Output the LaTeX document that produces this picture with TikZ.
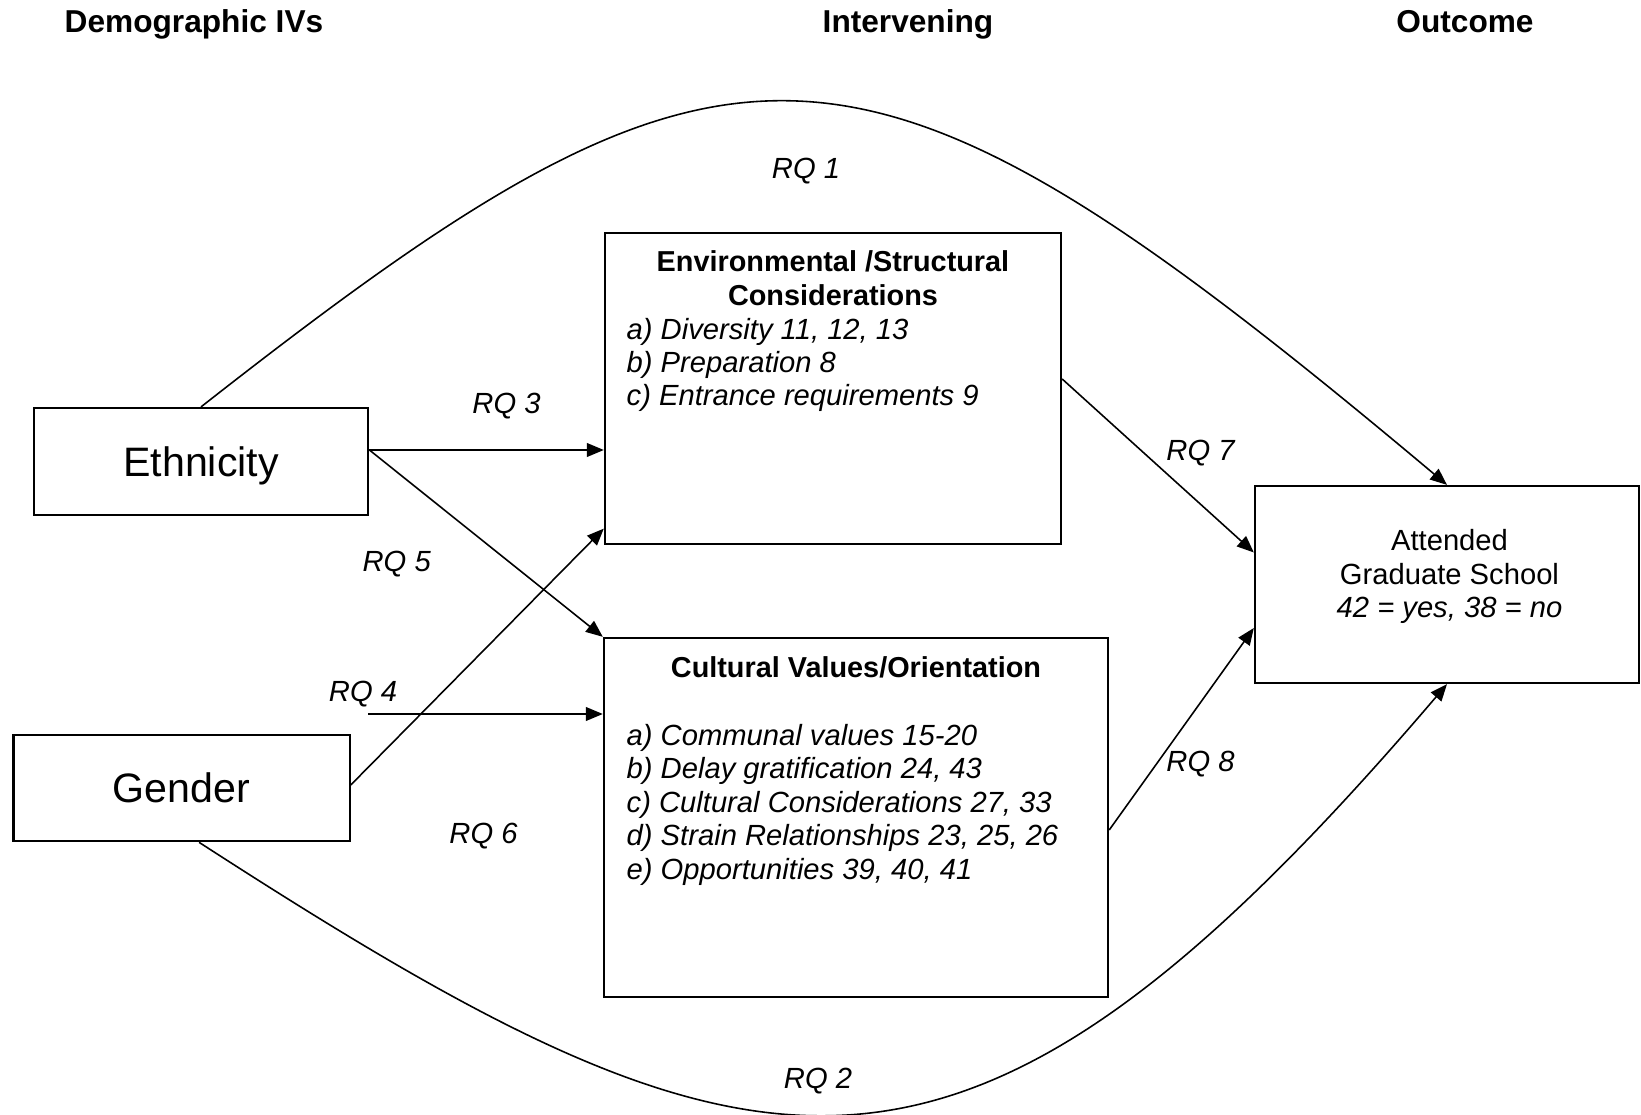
\documentclass[tikz,border=0pt]{standalone}
\usepackage{fontspec}
\setmainfont{Liberation Sans}
\usetikzlibrary{arrows.meta}
\begin{document}
\begin{tikzpicture}[x=0.01cm,y=-0.01cm,
	box/.style={draw,line width=0.6pt,inner sep=0pt},
	arr/.style={-{Triangle[length=4.8pt,width=3.9pt]},line width=0.45pt},
	head/.style={anchor=base,font=\fontsize{9}{11}\selectfont\bfseries},
	big/.style={text depth=0pt,font=\fontsize{11.7}{14}\selectfont},
	ttl/.style={inner sep=0pt,align=center,font=\fontsize{8.2}{9.5}\selectfont\bfseries},
	lst/.style={inner sep=0pt,align=left,anchor=west,font=\fontsize{8.3}{9.5}\selectfont\itshape},
	rq/.style={inner sep=0pt,font=\fontsize{8.3}{9.5}\selectfont\itshape}]
		\useasboundingbox (0,0) rectangle (1641,1115);
		\def\lx{626}%left edge of the lists
		\def\hy{32}%baseline of the column heads
		% column heads
		\node[head] (hdem) at (194,\hy) {Demographic IVs};
		\node[head] (hint) at (908,\hy) {Intervening};
		\node[head] (hout) at (1465,\hy) {Outcome};
		% boxes
		\node[box,big,minimum width=3.345cm,minimum height=1.07cm] (eth) at (201,461.5) {Ethnicity};
		\node[box,big,minimum width=3.36cm,minimum height=1.065cm] (gen) at (181.6,788) {Gender};
		\node[box,minimum width=4.56cm,minimum height=3.11cm] (env) at (833,388.5) {};
		\node[box,minimum width=5.04cm,minimum height=3.59cm] (cul) at (856,817.5) {};
		\node[box,minimum width=3.84cm,minimum height=1.97cm] (att) at (1447,584.5) {};
		\node[ttl] (envt) at (833,278) {Environmental /Structural\\Considerations};
		\node[lst] (envl) at (\lx,365) {a) Diversity 11, 12, 13\\b) Preparation 8\\c) Entrance requirements 9};
		\node[ttl] (cult) at (856,667) {Cultural Values/Orientation};
		\node[lst] (cull) at (\lx,804.7) {a) Communal values 15-20\\b) Delay gratification 24, 43\\c) Cultural Considerations 27, 33\\d) Strain Relationships 23, 25, 26\\e) Opportunities 39, 40, 41};
		\node[inner sep=0pt,align=center,font=\fontsize{8.3}{9.5}\selectfont] (attt) at (1449.5,576.5) {Attended\\Graduate School\\\textit{42 = yes, 38 = no}};
		% paths
		\draw[arr] ([yshift=1.15mm]eth.east) coordinate (e3) -- (e3 -| env.west);
		\draw[arr] (e3) -- (cul.north west);
		\draw[arr] ([yshift=0.3mm]gen.east) -- ([yshift=1.65mm]env.south west);
		\coordinate (rq4s) at (368,714);
		\draw[arr] (rq4s) -- (rq4s -| cul.west);
		\draw[arr] ([yshift=0.95mm]env.east) -- ([yshift=3.2mm]att.west);
		\draw[arr] ([yshift=-1.25mm]cul.east) -- ([yshift=-4.35mm]att.west);
		\draw[arr] (eth.north) .. controls (735,-12) and (855,-12) .. (att.north);
		\draw[arr] ([xshift=1.75mm]gen.south) .. controls (760,1205) and (960,1255) .. (att.south);
		% labels
		\path (806,171) node[rq] (rq1) {RQ 1};
		\path (818,1081) node[rq] (rq2) {RQ 2};
		\path (506.5,406) node[rq] (rq3) {RQ 3};
		\path (363,694) node[rq] (rq4) {RQ 4};
		\path (396.7,564) node[rq] (rq5) {RQ 5};
		\path (483.5,836) node[rq] (rq6) {RQ 6};
		\path (1200.5,453) node[rq] (rq7) {RQ 7};
		\path (1200.5,764) node[rq] (rq8) {RQ 8};
\end{tikzpicture}
\end{document}
